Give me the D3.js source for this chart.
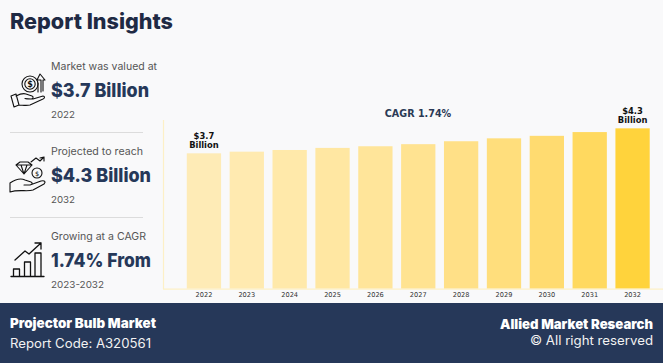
<!DOCTYPE html>
<html><head><meta charset="utf-8">
<script src="https://cdn.jsdelivr.net/npm/d3@7"></script>
<style>html,body{margin:0;padding:0;background:#f9f9fa;overflow:hidden}svg{display:block}</style>
</head><body><svg id="c" width="663" height="363"></svg>
<script>
const years = ["2022","2023","2024","2025","2026","2027","2028","2029","2030","2031","2032"];
const values = [3.70,3.74,3.78,3.83,3.87,3.92,3.99,4.06,4.12,4.21,4.30];
const barColors = ["#feebb6","#ffeab0","#ffe9aa","#ffe7a2","#ffe59a","#ffe391","#ffe087","#ffde7c","#ffdb70","#ffd95f","#ffd33c"];
const endLabels = {"2022":"$3.7","2032":"$4.3"};
const insights = [
 {top:"Market was valued at", big:"$3.7 Billion", small:"2022"},
 {top:"Projected to reach", big:"$4.3 Billion", small:"2032"},
 {top:"Growing at a CAGR", big:"1.74% From", small:"2023-2032"}
];
const svg = d3.select("#c");
const pop = "Inter, 'Open Sans', sans-serif";
const dv = "'DejaVu Sans', sans-serif";
const navy = "#263859";
function t(x,y,s,size,fill,weight,font,anchor,len){
  const n = svg.append("text").attr("x",x).attr("y",y).text(s).attr("font-size",size).attr("fill",fill)
   .attr("font-weight",weight||400).attr("font-family",font||pop).attr("text-anchor",anchor||"start");
  if(len) n.attr("textLength",len).attr("lengthAdjust","spacingAndGlyphs");
  return n;
}
svg.append("rect").attr("width",663).attr("height",363).attr("fill","#f9f9fa");
t(10,29,"Report Insights",21.5,"#1f2a44",800,pop,"start",163);

const x = d3.scaleBand().domain(years).range([182.5,654]).paddingInner(0.2).paddingOuter(0.1);
const y = d3.scaleLinear().domain([0.45,4.5]).range([288.7,120]);
svg.append("line").attr("x1",163.5).attr("x2",163.5).attr("y1",120).attr("y2",289).attr("stroke","#fdf0c6").attr("stroke-width",1.2);
svg.selectAll("rect.bar").data(values).join("rect").attr("class","bar")
  .attr("x",(d,i)=>x(years[i])).attr("width",x.bandwidth())
  .attr("y",d=>y(d)).attr("height",d=>y.range()[0]-y(d)).attr("fill",(d,i)=>barColors[i]);
svg.append("line").attr("x1",163).attr("x2",663).attr("y1",289.2).attr("y2",289.2).attr("stroke","#fdf0c6").attr("stroke-width",1.2);
const xAxis = d3.axisBottom(x).tickSize(0).tickPadding(0);
const g = svg.append("g").attr("transform","translate(0,289.5)").call(xAxis);
g.select(".domain").remove();
g.selectAll("text").attr("font-family",dv).attr("font-size",6.6).attr("fill","#333").attr("y",2.5).attr("dy","0.71em");

years.forEach((yr,i)=>{
  if(!endLabels[yr])return;
  const cx=x(yr)+x.bandwidth()/2, top=y(values[i]);
  t(cx,top-14.3,endLabels[yr],8.4,"#111",700,dv,"middle");
  t(cx,top-5,"Billion",8.4,"#111",700,dv,"middle");
});
t(418,117,"CAGR 1.74%",9.6,"#2b3a55",700,dv,"middle");

// left column
const tops=[70,155,240], bigs=[97,182,267], smalls=[118,203,288];
insights.forEach((d,i)=>{
  t(51,tops[i],d.top,10.2,"#555",400,pop,"start",i==0?106:i==1?92:95);
  t(51,bigs[i],d.big,19,navy,800,pop,"start",i==0?98:100);
  t(51,smalls[i],d.small,9.5,"#555",400,pop,"start",i==2?53:24);
});
[132.5,217.5].forEach(yy=>svg.append("line").attr("x1",10).attr("x2",143).attr("y1",yy).attr("y2",yy).attr("stroke","#dcdcdc"));

// icons
const ic = svg.append("g").attr("fill","none").attr("stroke","#111").attr("stroke-width",1.1).attr("stroke-linejoin","round").attr("stroke-linecap","round");
// icon 1: hand with coin and arrow
ic.append("path").attr("d","M11 96l5-2 3 11-5 2zM16 96c4-2 7-3 10-2l6 2c2 1 1 3-1 3l-6-.5M26 99l7 0 10-3c2 0 2 2 0 3l-13 6c-4 1-8 0-11 0");
ic.append("circle").attr("cx",30).attr("cy",84).attr("r",8);
ic.append("circle").attr("cx",30).attr("cy",84).attr("r",5.2);
ic.append("path").attr("d","M38 92V83M41 92V80H37L40 74L45 80H43V91");
t(30,87,"$",8,"#111",700,dv,"middle");
// icon 2: hand, gem, coin, arrow
ic.append("path").attr("d","M10 192v-9c6-4 11-5 15-3l6 2c2 1 1 3-1 3h-6M30 185l11-4c4-1 5 1 3 3l-11 6c-6 2-14-1-23 2");
ic.append("path").attr("d","M16 165l4-3h8l4 3-8 9zM16 165h16M21 165l3 9 3-9");
ic.append("circle").attr("cx",37).attr("cy",173).attr("r",5);
t(37,176,"$",6.5,"#111",400,dv,"middle");
ic.append("path").attr("d","M31 162l5-4 4 3 4-4M40 158l4-1 0 4");
// icon 3: bars and arrow
ic.append("path").attr("d","M11 276.500H44M13.500 276V269h6v7M24.500 276V262h6v14M35 276V253h6v23").attr("stroke-width",1.3);
ic.append("path").attr("d","M15 260l10-9 4 3 12-11M35 243h6v6").attr("stroke-width",1.3);

// footer
svg.append("rect").attr("y",303).attr("width",663).attr("height",60).attr("fill",navy);
t(10,328,"Projector Bulb Market",13,"#fff",900,pop,"start",146);
t(10,348,"Report Code: A320561",12.500,"#f2f2f2",400,pop,"start",141);
t(653,329,"Allied Market Research",13,"#fff",900,pop,"end",153);
t(653,345,"© All right reserved",12.500,"#f2f2f2",400,pop,"end",123);
</script></body></html>
